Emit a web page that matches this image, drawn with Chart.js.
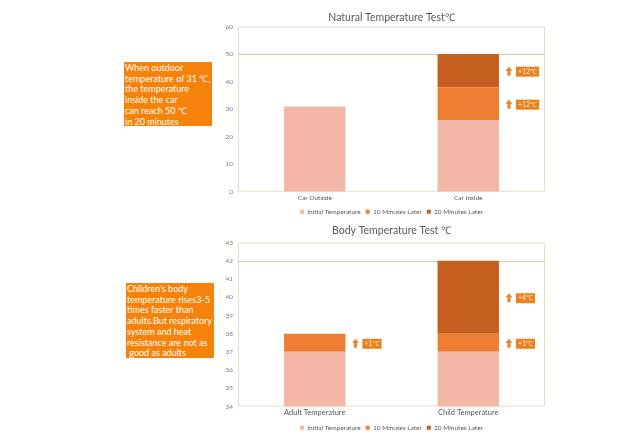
<!DOCTYPE html>
<html>
<head>
<meta charset="utf-8">
<script src="https://cdn.jsdelivr.net/npm/chart.js@4.4.1/dist/chart.umd.min.js"></script>
<style>
  body { margin: 0; background: #fff; width: 640px; height: 448px; position: relative; overflow: hidden; }
  .note {
    position: absolute; background: #f5820a; color: #fff;
    font-family: Lato, sans-serif; font-size: 9px; line-height: 10.7px;
    padding: 1px 1px; box-sizing: border-box; white-space: nowrap; overflow: hidden;
  }
  .wrap { position: absolute; }
</style>
</head>
<body>
<div class="note" style="left:124px;top:62px;width:88px;height:64px;">When outdoor<br>temperature of 31 ℃,<br>the temperature<br>inside the car<br>can reach 50 ℃<br>in 20 minutes</div>
<div class="note" style="left:126px;top:283px;width:88px;height:75px;">Children's body<br>temperature rises3-5<br>times faster than<br>adults.But respiratory<br>system and heat<br>resistance are not as<br>&nbsp;good as adults</div>

<div class="wrap" style="left:222px;top:0px;width:338px;height:225px;"><canvas id="natural"></canvas></div>
<div class="wrap" style="left:222px;top:220px;width:338px;height:221px;"><canvas id="body"></canvas></div>

<script>
// series names shared by both charts
const seriesNames = ['Initial Temperature', '10 Minutes Later', '20 Minutes Later'];
const seriesColors = ['#f4b6a6', '#ed7d31', '#c55f1f'];

// natural temperature test
const natCategories = ['Car Outside', 'Car Inside'];
const natInitial = [31, 26];
const natAfter10 = [0, 12];
const natAfter20 = [0, 12];
const natRef = 50;

// body temperature test
const bodyCategories = ['Adult Temperature', 'Child Temperature'];
const bodyInitial = [37, 37];
const bodyAfter10 = [1, 1];
const bodyAfter20 = [0, 4];
const bodyRef = 42;

Chart.defaults.font.family = "Lato, sans-serif";
Chart.defaults.color = '#595959';

// plot frame + reference line
const framePlugin = {
  id: 'frame',
  beforeDatasetsDraw(chart, args, opts) {
    const a = chart.chartArea, ctx = chart.ctx;
    ctx.save();
    ctx.strokeStyle = '#e4dfc6';
    ctx.lineWidth = 1;
    ctx.strokeRect(a.left + 0.5, a.top + 0.5, a.width - 1, a.height - 1);
    const y = Math.round(chart.scales.y.getPixelForValue(opts.ref)) + 0.5;
    ctx.strokeStyle = '#cfcf9e';
    ctx.beginPath();
    ctx.moveTo(a.left, y);
    ctx.lineTo(a.right, y);
    ctx.stroke();
    ctx.restore();
  }
};

// "+N℃" tags beside each increase
const tagPlugin = {
  id: 'tags',
  afterDatasetsDraw(chart) {
    const ctx = chart.ctx;
    ctx.save();
    ctx.font = "7px Lato, sans-serif";
    for (let d = 1; d < chart.data.datasets.length; d++) {
      const meta = chart.getDatasetMeta(d);
      chart.data.datasets[d].data.forEach((v, i) => {
        if (!v) return;
        const bar = meta.data[i];
        const ax = bar.x + bar.width / 2 + 10;
        const ay = (bar.y + bar.base) / 2 + 1;
        // arrow
        ctx.fillStyle = '#e8872a';
        ctx.beginPath();
        ctx.moveTo(ax, ay - 5);
        ctx.lineTo(ax + 3.5, ay - 1);
        ctx.lineTo(ax + 1.5, ay - 1);
        ctx.lineTo(ax + 1.5, ay + 4);
        ctx.lineTo(ax - 1.5, ay + 4);
        ctx.lineTo(ax - 1.5, ay - 1);
        ctx.lineTo(ax - 3.5, ay - 1);
        ctx.closePath();
        ctx.fill();
        // tag
        const txt = '+' + v + '℃';
        const w = ctx.measureText(txt).width + 4;
        ctx.fillStyle = '#e8821e';
        ctx.fillRect(ax + 7, ay - 5, w, 10);
        ctx.fillStyle = '#fde6cc';
        ctx.textBaseline = 'middle';
        ctx.fillText(txt, ax + 9, ay);
      });
    }
    ctx.restore();
  }
};

function makeChart(id, title, cats, s0, s1, s2, yMin, yMax, ref, catFont, catPad, titleTop, titleBottom) {
  return new Chart(document.getElementById(id), {
    type: 'bar',
    data: {
      labels: cats,
      datasets: [s0, s1, s2].map((d, k) => ({
        label: seriesNames[k],
        data: d,
        backgroundColor: seriesColors[k],
        borderWidth: 0,
        barPercentage: 0.4,
        categoryPercentage: 1
      }))
    },
    options: {
      responsive: true,
      maintainAspectRatio: false,
      animation: false,
      layout: { padding: { right: 15, bottom: 0 } },
      plugins: {
        title: {
          display: true, text: title, fullSize: false,
          font: { size: 10.5, weight: 'normal' }, color: '#595959',
          padding: { top: titleTop, bottom: titleBottom }
        },
        legend: {
          position: 'bottom',
          fullSize: false,
          labels: { boxWidth: 4, boxHeight: 4, font: { size: 6.5 }, padding: 5, color: '#595959' }
        },
        tooltip: { enabled: false },
        frame: { ref: ref }
      },
      scales: {
        x: {
          stacked: true,
          grid: { display: false, drawTicks: false },
          border: { display: false },
          ticks: { font: { size: catFont }, padding: catPad, color: '#595959' }
        },
        y: {
          stacked: true,
          min: yMin,
          max: yMax,
          grid: { display: false, drawTicks: false },
          border: { display: false },
          ticks: { stepSize: (yMax - yMin) > 20 ? 10 : 1, font: { size: 6.5 }, padding: 5, color: '#7f7f7f' },
          afterFit(scale) { scale.width = 16; }
        }
      }
    },
    plugins: [framePlugin, tagPlugin]
  });
}

makeChart('natural', 'Natural Temperature Test℃', natCategories, natInitial, natAfter10, natAfter20, 0, 60, natRef, 6.5, 2, 11, 3);
makeChart('body', 'Body Temperature Test ℃', bodyCategories, bodyInitial, bodyAfter10, bodyAfter20, 34, 43, bodyRef, 7.5, 2, 4, 6);
</script>
</body>
</html>
